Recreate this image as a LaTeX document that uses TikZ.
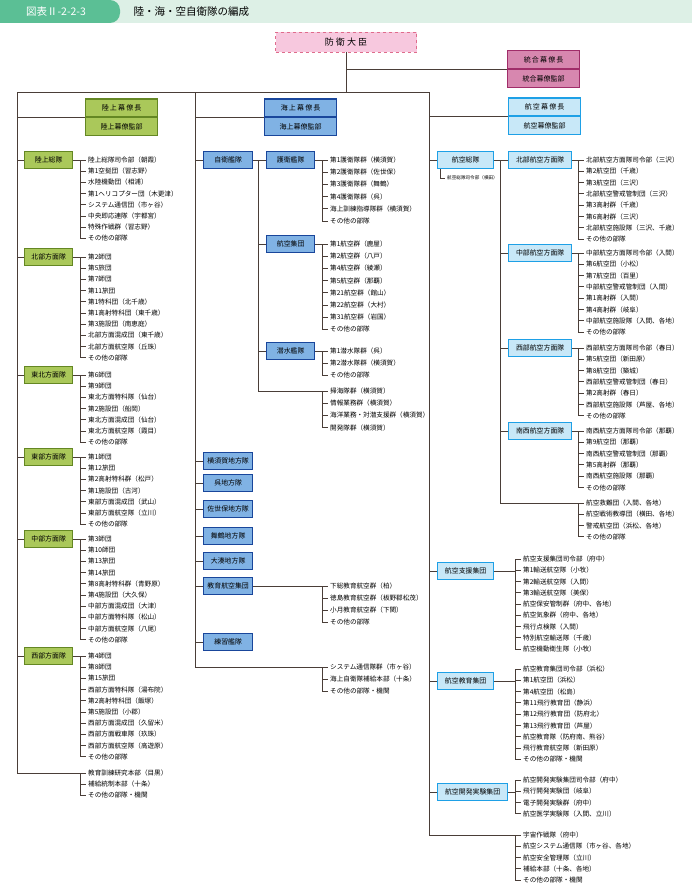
\documentclass[tikz,border=0pt]{standalone}
\usepackage{fontspec}
\setmainfont{Noto Sans CJK JP}
\usetikzlibrary{positioning}
\definecolor{hdgreen}{RGB}{91,191,149}
\definecolor{hdband}{RGB}{221,240,230}
\definecolor{lnbrown}{RGB}{74,62,56}
\definecolor{gsfill}{RGB}{170,200,90}
\definecolor{gsdraw}{RGB}{100,135,35}
\definecolor{msfill}{RGB}{128,178,228}
\definecolor{msdraw}{RGB}{25,70,155}
\definecolor{asfill}{RGB}{200,232,248}
\definecolor{asdraw}{RGB}{30,160,230}
\definecolor{jsfill}{RGB}{215,135,175}
\definecolor{jsdraw}{RGB}{160,45,105}
\definecolor{mnfill}{RGB}{247,200,222}

\tikzset{
  conn/.style={draw=lnbrown, line width=0.9pt},
  item/.style={font=\fontsize{6.6}{7}\selectfont, anchor=west, inner xsep=2pt, inner ysep=0pt},
  unitbox/.style={line width=1.3pt, anchor=west, minimum height=17, inner sep=1pt, font=\fontsize{6.9}{7}\selectfont},
  gsdbox/.style={unitbox, draw=gsdraw, fill=gsfill},
  msdbox/.style={unitbox, draw=msdraw, fill=msfill},
  asdbox/.style={unitbox, draw=asdraw, fill=asfill},
  chief/.style={line width=1.3pt, minimum width=72, minimum height=17.5, inner sep=0pt, font=\fontsize{7}{8}\selectfont},
}

% bracket list: prefix, bracket x, first y, spacing, items
\newcommand\sublist[5]{%
  \foreach \t [count=\i] in {#5} {
    \node[item] (#1-\i) at (#2+6, {#3+(\i-1)*#4}) {\t};
    \draw[conn] (#2, {#3+(\i-1)*#4}) -- (#1-\i.west);
    \xdef\lastitem{\i}
  }
  \draw[conn] (#2,#3) -- (#2, {#3+(\lastitem-1)*#4});
}

\begin{document}
\begin{tikzpicture}[x=1pt, y=-1pt]
\useasboundingbox (0,0) rectangle (692,883);
% header
\fill[hdband] (0,0) rectangle (692,23);
\fill[hdgreen, rounded corners=10pt] (-20,0) rectangle (120,23);
\node[white, font=\fontsize{10.5}{11}\selectfont] (fignum) at (56,11.5) {図表Ⅱ-2-2-3};
\node[anchor=west, font=\fontsize{10.5}{11}\selectfont] (title) at (130,11.5) {陸・海・空自衛隊の編成};

% minister and chiefs
\node[draw=jsfill!80!red, dashed, fill=mnfill, minimum width=141, minimum height=20, font=\fontsize{9}{10}\selectfont] (minister) at (346,42) {防\ 衛\ 大\ 臣};
\node[chief, draw=jsdraw, fill=jsfill, anchor=south west] (jchief) at (507,69) {統\,合\,幕\,僚\,長};
\node[chief, draw=jsdraw, fill=jsfill, anchor=north] (jstaff) at (jchief.south) {統合幕僚監部};
\node[chief, draw=gsdraw, fill=gsfill, anchor=south west] (gchief) at (85,117) {陸\,上\,幕\,僚\,長};
\node[chief, draw=gsdraw, fill=gsfill, anchor=north] (gstaff) at (gchief.south) {陸上幕僚監部};
\node[chief, draw=msdraw, fill=msfill, anchor=south west] (mchief) at (264,117) {海\,上\,幕\,僚\,長};
\node[chief, draw=msdraw, fill=msfill, anchor=north] (mstaff) at (mchief.south) {海上幕僚監部};
\node[chief, draw=asdraw, fill=asfill, anchor=south west] (achief) at (508,116) {航\,空\,幕\,僚\,長};
\node[chief, draw=asdraw, fill=asfill, anchor=north] (astaff) at (achief.south) {航空幕僚監部};

\coordinate (gtrunk) at (17,92);
\coordinate (mtrunk) at (195,92);
\coordinate (atrunk) at (429,92);
\draw[conn] (minister.south) -- (minister.south |- atrunk);
\draw[conn] (minister.south |- jchief.south west) -- (jchief.south west);
\draw[conn] (gtrunk) -- (atrunk);
\draw[conn] (gtrunk) -- (17,773);
\draw[conn] (mtrunk) -- (195,667);
\draw[conn] (atrunk) -- (429,835);
\draw[conn] (gtrunk |- gchief.south west) -- (gchief.south west);
\draw[conn] (mtrunk |- mchief.south west) -- (mchief.south west);
\draw[conn] (atrunk |- achief.south west) -- (achief.south west);

% Ground SDF
\foreach \nm/\yy/\lbl in {rsou/160/陸上総隊, hoku/257/北部方面隊, toho/375/東北方面隊, tobu/457/東部方面隊, chub/539/中部方面隊, seib/656/西部方面隊} {
  \node[gsdbox, minimum width=48] (\nm) at (24,\yy) {\lbl};
  \draw[conn] (17,\yy) -- (\nm.west);
  \draw[conn] (\nm.east) -- (80,\yy);
}
\sublist{rsou}{80}{160}{11.2}{陸上総隊司令部（朝霞）, 第1空挺団（習志野）, 水陸機動団（相浦）, 第1ヘリコプター団（木更津）, システム通信団（市ヶ谷）, 中央即応連隊（宇都宮）, 特殊作戦群（習志野）, その他の部隊}
\sublist{hoku}{80}{257}{11.2}{第2師団, 第5旅団, 第7師団, 第11旅団, 第1特科団（北千歳）, 第1高射特科団（東千歳）, 第3施設団（南恵庭）, 北部方面混成団（東千歳）, 北部方面航空隊（丘珠）, その他の部隊}
\sublist{toho}{80}{375}{11.2}{第6師団, 第9師団, 東北方面特科隊（仙台）, 第2施設団（船岡）, 東北方面混成団（仙台）, 東北方面航空隊（霞目）, その他の部隊}
\sublist{tobu}{80}{457}{11.2}{第1師団, 第12旅団, 第2高射特科群（松戸）, 第1施設団（古河）, 東部方面混成団（武山）, 東部方面航空隊（立川）, その他の部隊}
\sublist{chub}{80}{539}{11.2}{第3師団, 第10師団, 第13旅団, 第14旅団, 第8高射特科群（青野原）, 第4施設団（大久保）, 中部方面混成団（大津）, 中部方面特科隊（松山）, 中部方面航空隊（八尾）, その他の部隊}
\sublist{seib}{80}{656}{11.2}{第4師団, 第8師団, 第15旅団, 西部方面特科隊（湯布院）, 第2高射特科団（飯塚）, 第5施設団（小郡）, 西部方面混成団（久留米）, 西部方面戦車隊（玖珠）, 西部方面航空隊（高遊原）, その他の部隊}
\draw[conn] (17,773) -- (80,773);
\sublist{gext}{80}{773}{11.2}{教育訓練研究本部（目黒）, 補給統制本部（十条）, その他の部隊・機関}

% Maritime SDF
\foreach \nm/\yy/\lbl in {jiei/160/自衛艦隊, yoko/461/横須賀地方隊, kure/483/呉地方隊, sase/509/佐世保地方隊, maiz/536/舞鶴地方隊, omin/561/大湊地方隊, kyok/586/教育航空集団, rens/642/練習艦隊} {
  \node[msdbox, minimum width=49] (\nm) at (203,\yy) {\lbl};
  \draw[conn] (195,\yy) -- (\nm.west);
}
\draw[conn] (jiei.east) -- (258,160) -- (258,391);
\foreach \nm/\yy/\lbl in {goei/160/護衛艦隊, koku/244/航空集団, sens/351/潜水艦隊} {
  \node[msdbox, minimum width=48] (\nm) at (266,\yy) {\lbl};
  \draw[conn] (258,\yy) -- (\nm.west);
  \draw[conn] (\nm.east) -- (322,\yy);
}
\sublist{goei}{322}{160}{12.2}{第1護衛隊群（横須賀）, 第2護衛隊群（佐世保）, 第3護衛隊群（舞鶴）, 第4護衛隊群（呉）, 海上訓練指導隊群（横須賀）, その他の部隊}
\sublist{koku}{322}{244}{12.2}{第1航空群（鹿屋）, 第2航空群（八戸）, 第4航空群（綾瀬）, 第5航空群（那覇）, 第21航空群（館山）, 第22航空群（大村）, 第31航空群（岩国）, その他の部隊}
\sublist{sens}{322}{351}{12.2}{第1潜水隊群（呉）, 第2潜水隊群（横須賀）, その他の部隊}
\draw[conn] (258,391) -- (322,391);
\sublist{jext}{322}{391}{12.2}{掃海隊群（横須賀）, 情報業務群（横須賀）, 海洋業務・対潜支援群（横須賀）, 開発隊群（横須賀）}
\draw[conn] (kyok.east) -- (322,586);
\sublist{kyoi}{322}{586}{12}{下総教育航空群（柏）, 徳島教育航空群（板野郡松茂）, 小月教育航空群（下関）, その他の部隊}
\draw[conn] (195,667) -- (322,667);
\sublist{mext}{322}{667}{12}{システム通信隊群（市ヶ谷）, 海上自衛隊補給本部（十条）, その他の部隊・機関}

% Air SDF
\node[asdbox, minimum width=56] (sout) at (437,160) {航空総隊};
\draw[conn] (429,160) -- (sout.west);
\node[item, font=\fontsize{4.6}{5}\selectfont] (southq) at (445,178) {航空総隊司令部（横田）};
\draw[conn, line width=0.6pt] (sout.south west) ++(3,0) |- (southq.west);
\draw[conn] (sout.east) -- (500,160) -- (500,503);
\foreach \nm/\yy/\lbl in {hokk/160/北部航空方面隊, chuk/253/中部航空方面隊, seik/348/西部航空方面隊, nank/431/南西航空方面隊} {
  \node[asdbox, minimum width=63] (\nm) at (508,\yy) {\lbl};
  \draw[conn] (500,\yy) -- (\nm.west);
  \draw[conn] (\nm.east) -- (578,\yy);
}
\sublist{hokk}{578}{160}{11.3}{北部航空方面隊司令部（三沢）, 第2航空団（千歳）, 第3航空団（三沢）, 北部航空警戒管制団（三沢）, 第3高射群（千歳）, 第6高射群（三沢）, 北部航空施設隊（三沢、千歳）, その他の部隊}
\sublist{chuk}{578}{253}{11.3}{中部航空方面隊司令部（入間）, 第6航空団（小松）, 第7航空団（百里）, 中部航空警戒管制団（入間）, 第1高射群（入間）, 第4高射群（岐阜）, 中部航空施設隊（入間、各地）, その他の部隊}
\sublist{seik}{578}{348}{11.3}{西部航空方面隊司令部（春日）, 第5航空団（新田原）, 第8航空団（築城）, 西部航空警戒管制団（春日）, 第2高射群（春日）, 西部航空施設隊（芦屋、各地）, その他の部隊}
\sublist{nank}{578}{431}{11.3}{南西航空方面隊司令部（那覇）, 第9航空団（那覇）, 南西航空警戒管制団（那覇）, 第5高射群（那覇）, 南西航空施設隊（那覇）, その他の部隊}
\draw[conn] (500,503) -- (578,503);
\sublist{aext}{578}{503}{11.3}{航空救難団（入間、各地）, 航空戦術教導団（横田、各地）, 警戒航空団（浜松、各地）, その他の部隊}

\foreach \nm/\yy/\ww/\lbl in {shie/571/56/航空支援集団, kyik/681/56/航空教育集団, kaih/792/70/航空開発実験集団} {
  \node[asdbox, minimum width=\ww] (\nm) at (437,\yy) {\lbl};
  \draw[conn] (429,\yy) -- (\nm.west);
  \draw[conn] (\nm.east) -- (515,\yy);
}
\sublist{shie}{515}{559}{11.25}{航空支援集団司令部（府中）, 第1輸送航空隊（小牧）, 第2輸送航空隊（入間）, 第3輸送航空隊（美保）, 航空保安管制群（府中、各地）, 航空気象群（府中、各地）, 飛行点検隊（入間）, 特別航空輸送隊（千歳）, 航空機動衛生隊（小牧）}
\sublist{kyik}{515}{669}{11.3}{航空教育集団司令部（浜松）, 第1航空団（浜松）, 第4航空団（松島）, 第11飛行教育団（静浜）, 第12飛行教育団（防府北）, 第13飛行教育団（芦屋）, 航空教育隊（防府南、熊谷）, 飛行教育航空隊（新田原）, その他の部隊・機関}
\sublist{kaih}{515}{780}{11.3}{航空開発実験集団司令部（府中）, 飛行開発実験団（岐阜）, 電子開発実験群（府中）, 航空医学実験隊（入間、立川）}
\draw[conn] (429,835) -- (515,835);
\sublist{bext}{515}{835}{11.3}{宇宙作戦隊（府中）, 航空システム通信隊（市ヶ谷、各地）, 航空安全管理隊（立川）, 補給本部（十条、各地）, その他の部隊・機関}
\end{tikzpicture}
\end{document}
